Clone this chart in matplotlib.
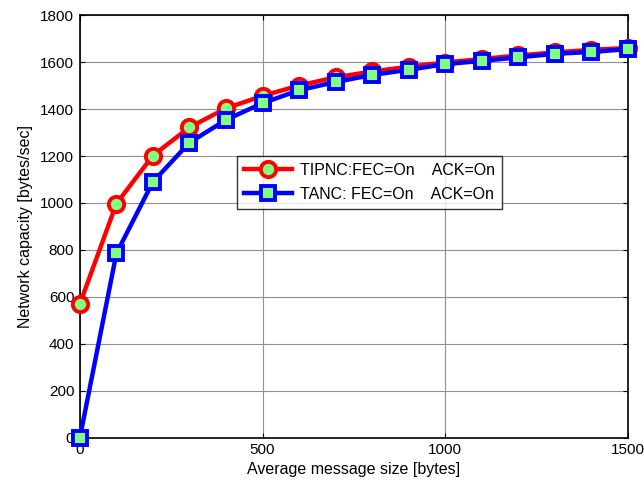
import matplotlib
matplotlib.use("Agg")
import matplotlib.pyplot as plt

plt.rcParams['font.family'] = ['Liberation Sans', 'DejaVu Sans']

# данные
msg_size = [0, 100, 200, 300, 400, 500, 600, 700, 800, 900,
            1000, 1100, 1200, 1300, 1400, 1500]
tipnc = [570, 997, 1202, 1322, 1403, 1456, 1500, 1535, 1560, 1580,
         1598, 1613, 1628, 1641, 1652, 1660]
tanc = [0, 785, 1090, 1257, 1354, 1425, 1480, 1515, 1545, 1567,
        1591, 1605, 1620, 1635, 1643, 1655]

labels = ["TIPNC:FEC=On    ACK=On", "TANC: FEC=On    ACK=On"]
xticks = [0, 500, 1000, 1500]
yticks = list(range(0, 1801, 200))

fig = plt.figure(figsize=(6.44, 4.86), dpi=100)
ax = fig.add_axes([0.124, 0.099, 0.851, 0.870])

ax.plot(msg_size, tipnc, color='red', lw=3.2, marker='o', ms=11,
        mfc='#80ff80', mec='red', mew=2.8, label=labels[0], clip_on=False, zorder=3)
ax.plot(msg_size, tanc, color='blue', lw=3.2, marker='s', ms=10,
        mfc='#80ff80', mec='blue', mew=2.8, label=labels[1], clip_on=False, zorder=4)

ax.set_xlim(0, 1500)
ax.set_ylim(0, 1800)
ax.set_xticks(xticks)
ax.set_yticks(yticks)
ax.tick_params(direction='in', top=True, right=True, labelsize=11, pad=4)
ax.grid(True, color='#909090', lw=0.8)
for s in ax.spines.values():
    s.set_linewidth(1.2)

ax.set_xlabel("Average message size [bytes]", fontsize=11.5, labelpad=3)
ax.set_ylabel("Network capacity [bytes/sec]", fontsize=11.5, labelpad=5)

leg = ax.legend(loc='upper left', bbox_to_anchor=(0.286, 0.667), fontsize=11.5,
                frameon=True, fancybox=False, edgecolor='black', borderaxespad=0,
                handlelength=3.0, handletextpad=0.5, borderpad=0.45,
                labelspacing=0.55)
leg.get_frame().set_linewidth(1.0)
leg.set_zorder(5)

fig.savefig("out.png", dpi=100)
